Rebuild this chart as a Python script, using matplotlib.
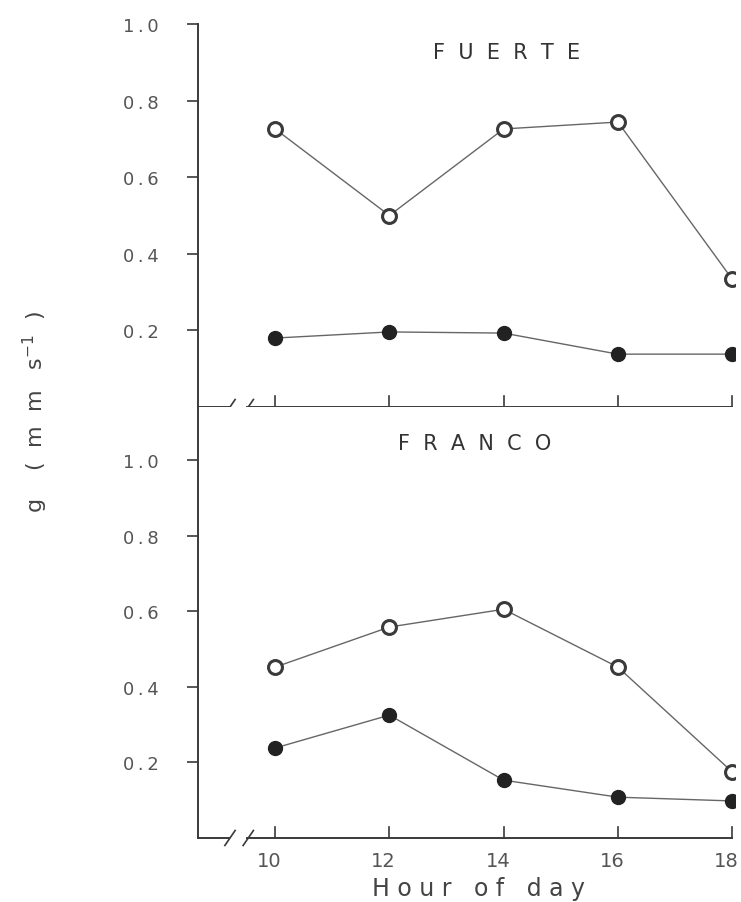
import matplotlib.pyplot as plt

hours = [10, 12, 14, 16, 18]

# Fuerte
fuerte_open = [0.726, 0.50, 0.726, 0.744, 0.334]
fuerte_filled = [0.18, 0.196, 0.193, 0.138, 0.138]

# Franco
franco_open = [0.452, 0.558, 0.605, 0.452, 0.175]
franco_filled = [0.238, 0.325, 0.153, 0.108, 0.098]

yticks = [0.2, 0.4, 0.6, 0.8, 1.0]
ytick_labels = ["0\u2009.\u20092", "0\u2009.\u20094", "0\u2009.\u20096",
                "0\u2009.\u20098", "1\u2009.\u20090"]

ink = "#3a3a3a"
txt = "#555555"
plt.rcParams["font.family"] = ["DejaVu Sans"]

W, H = 741, 903
fig = plt.figure(figsize=(W / 100, H / 100), dpi=100)

x0, x1 = 198, 735
xlo, xhi = 8.65, 18.05
panels = [
    # (top px, bottom px, ymax, title, title x px, title y px, open, filled)
    (25, 408, 1.0, "F  U  E  R  T  E", 507, 53, fuerte_open, fuerte_filled),
    (408, 839, 1.14, "F  R  A  N  C  O", 475, 444, franco_open, franco_filled),
]

for i, (top, bot, ymax, title, tx, ty, op, fl) in enumerate(panels):
    ax = fig.add_axes([x0 / W, 1 - bot / H, (x1 - x0) / W, (bot - top) / H])
    ax.set_xlim(xlo, xhi)
    ax.set_ylim(0, ymax)
    for s in ["top", "right", "bottom"]:
        ax.spines[s].set_visible(False)
    ax.spines["left"].set_color(ink)
    ax.spines["left"].set_linewidth(1.4)

    ax.plot(hours, op, color="#666666", lw=1.0, marker="o", ms=10,
            mfc="white", mec=ink, mew=2.2, zorder=3)
    ax.plot(hours, fl, color="#666666", lw=1.0, marker="o", ms=10,
            mfc="#222222", mec="#222222", zorder=3)

    ax.set_yticks(yticks)
    ax.set_yticklabels(ytick_labels)
    ax.tick_params(axis="y", direction="out", length=8, width=1.2,
                   color=ink, labelsize=13, labelcolor=txt, pad=20)

    # bottom axis with a break near the spine
    ax.set_xticks([])
    ax.plot([xlo, 9.2], [0, 0], color=ink, lw=1.4, clip_on=False)
    ax.plot([9.5, hours[-1]], [0, 0], color=ink, lw=1.4, clip_on=False)
    dy = 7.5 / (bot - top) * ymax
    for bx in (9.21, 9.53):
        ax.plot([bx - 0.09, bx + 0.09], [-dy, dy], color=ink, lw=1.2,
                clip_on=False)
    tick_h = 11 / (bot - top) * ymax
    for h in hours:
        ax.plot([h, h], [0, tick_h], color=ink, lw=1.2, clip_on=False)

    fig.text(tx / W, 1 - ty / H, title, ha="center", va="center",
             fontsize=15, color="#333333")

    if i == 1:
        for h in hours:
            ax.text(h - 0.1, -0.06, str(h), ha="center", va="center",
                    fontsize=14, color=txt)
        fig.text(478 / W, 1 - 889 / H, "H o u r   o f   d a y",
                 ha="center", va="center", fontsize=17, color="#444444")

fig.text(35 / W, 1 - 412 / H, "g    (  m  m   s$^{-1}$  )", rotation=90,
         ha="center", va="center", fontsize=16, color="#444444")

fig.savefig("out.png", dpi=100)
